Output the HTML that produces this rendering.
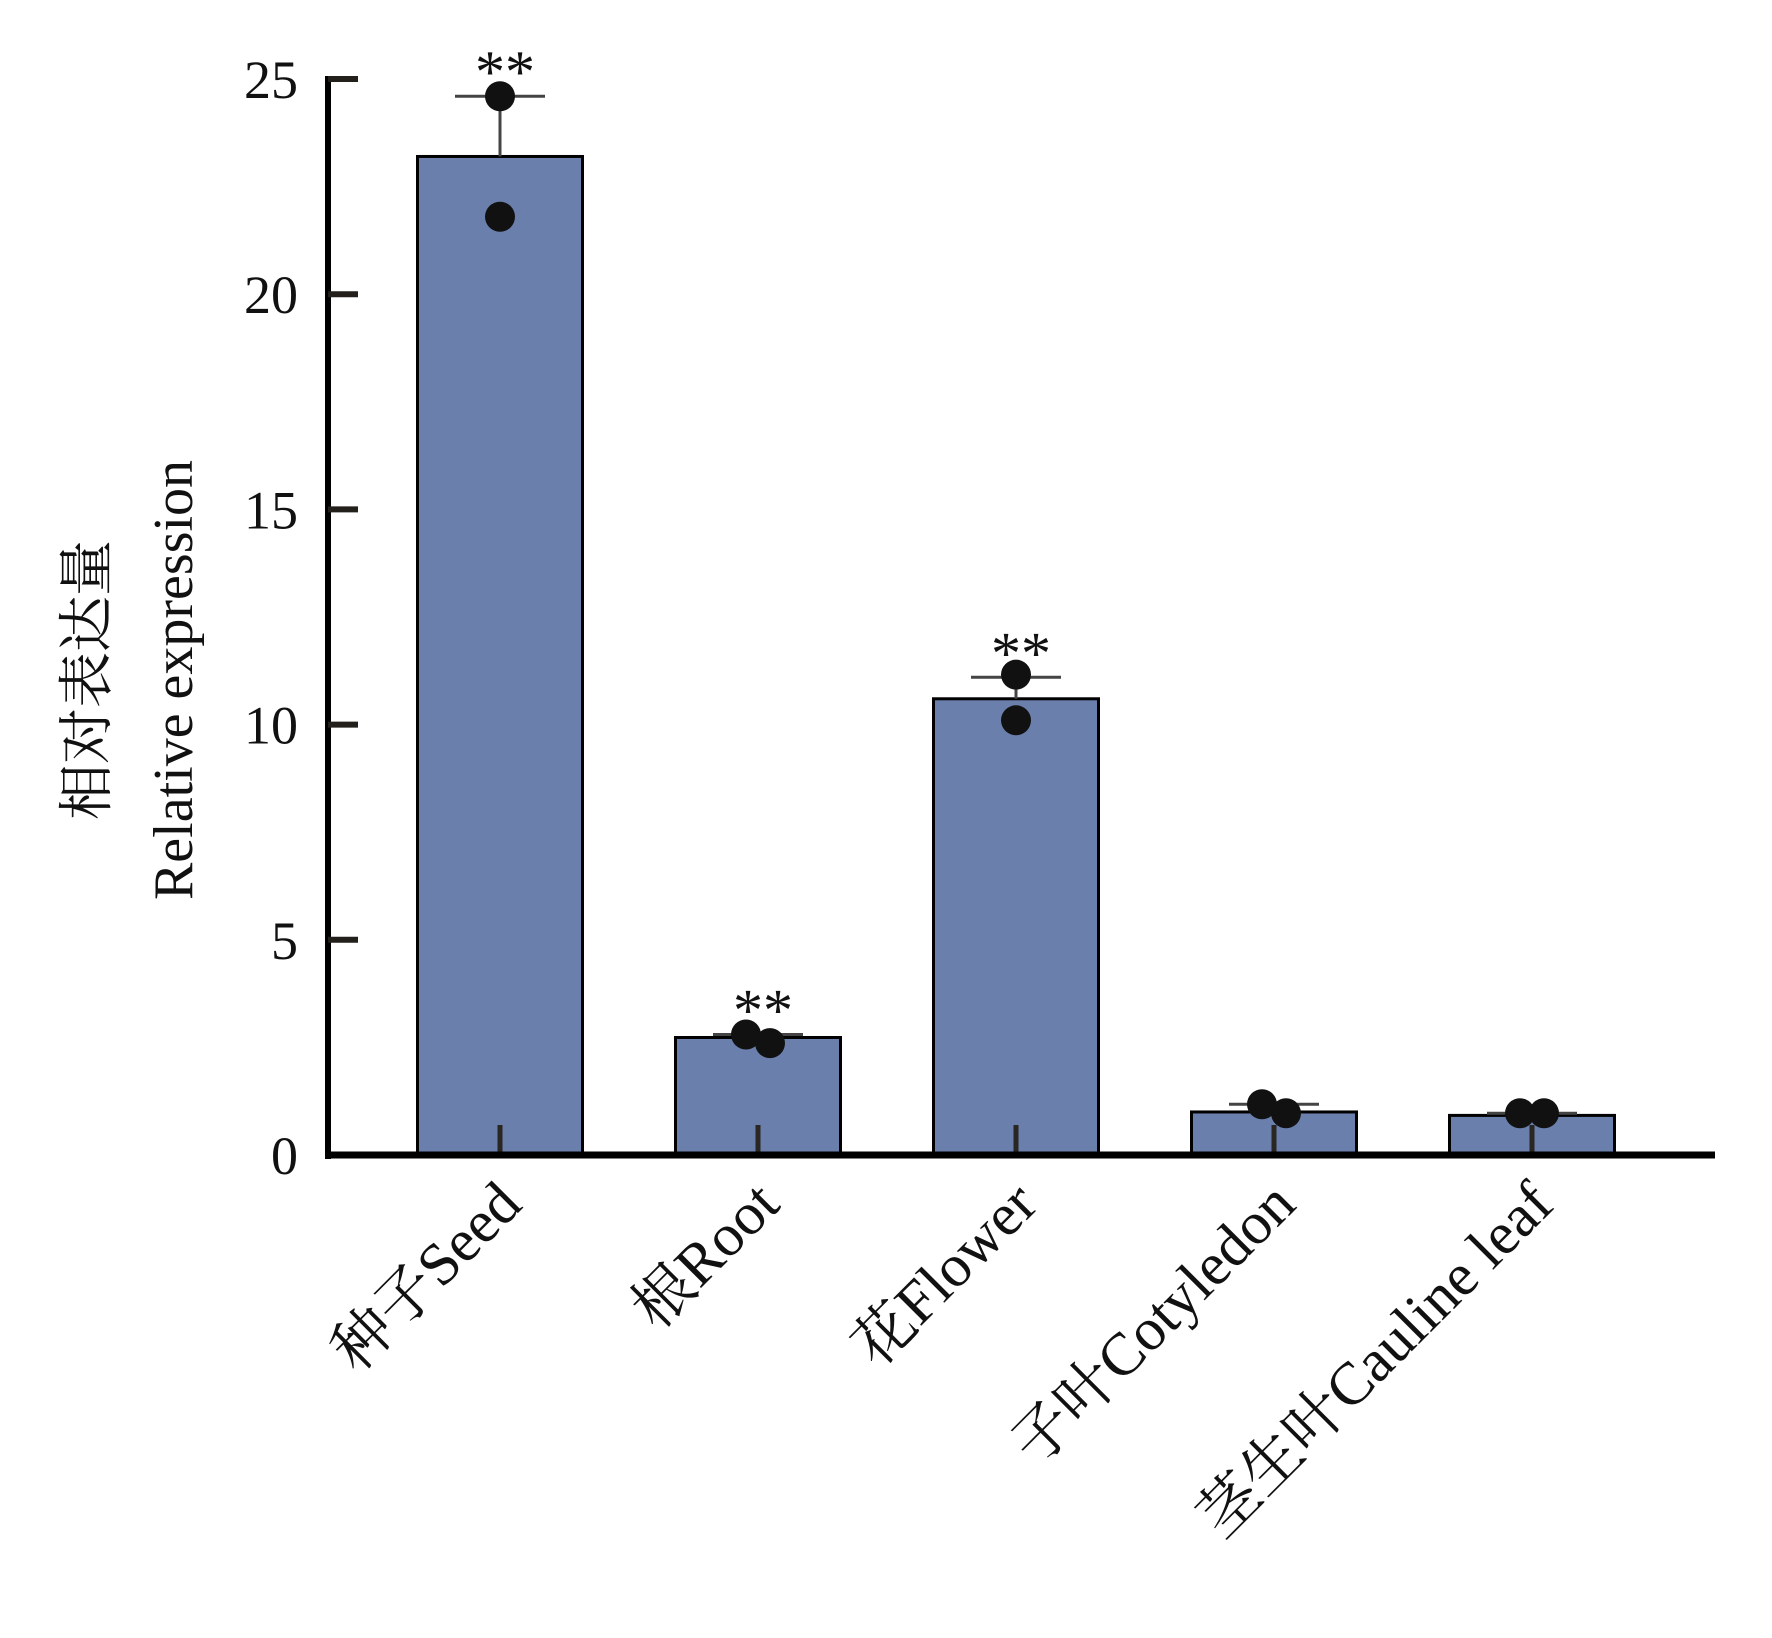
<!DOCTYPE html>
<html><head><meta charset="utf-8"><style>
body{margin:0;background:#fff}
svg{display:block}
text{font-family:"Liberation Serif","Noto Serif CJK SC","Noto Sans CJK SC",serif;fill:#111}
</style></head><body>
<svg id="chart" width="1772" height="1638" viewBox="0 0 1772 1638" xmlns="http://www.w3.org/2000/svg">
<g id="axes"></g>
<g id="bars"></g>
<text transform="translate(106,680) rotate(-90)" text-anchor="middle" font-size="56">相对表达量</text>
<text transform="translate(192,680) rotate(-90)" text-anchor="middle" font-size="56">Relative expression</text>
</svg>
<script>
const categories = ["种子Seed","根Root","花Flower","子叶Cotyledon","茎生叶Cauline leaf"];
const means = [23.2, 2.73, 10.6, 1.0, 0.92];
const errTop = [24.6, 2.8, 11.1, 1.18, 0.97];
const rep1 = [24.6, 2.8, 11.16, 1.18, 0.97];
const rep2 = [21.8, 2.6, 10.1, 0.97, 0.97];
const significance = ["**","**","**","",""];
const yTicks = [0,5,10,15,20,25];

const NS="http://www.w3.org/2000/svg";
const svg=document.getElementById('chart');
const gA=document.getElementById('axes'), gB=document.getElementById('bars');
const x0=328, x1=1715, y0=1155, yTop=79, yMax=25;
const y=v=>y0-(v/yMax)*(y0-yTop);
const step=258, firstC=500, bw=165;
const xc=i=>firstC+i*step;
function el(t,a,p){const e=document.createElementNS(NS,t);for(const k in a)e.setAttribute(k,a[k]);p.appendChild(e);return e;}

const ya=el('line',{x1:x0,y1:yTop-3,x2:x0,y2:y0+4,stroke:'#000','stroke-width':6},gA);


yTicks.forEach(t=>{
  const tk=el('line',{x1:x0,y1:y(t),x2:x0+30,y2:y(t),stroke:'#231f1a','stroke-width':6},gA);
  
  
  const lb=el('text',{x:298,y:y(t)+19,'text-anchor':'end','font-size':54},gA);
  lb.textContent=t;
  
  
});

categories.forEach((c,i)=>{
  const cx=xc(i);
  const r=el('rect',{x:cx-bw/2,y:y(means[i]),width:bw,height:y0-y(means[i]),fill:'#6a7fab',stroke:'#000','stroke-width':3},gB);
  
  
  const ev=el('line',{x1:cx,y1:y(means[i]),x2:cx,y2:y(errTop[i]),stroke:'#444','stroke-width':3},gB);
  
  
  const cap=el('line',{x1:cx-45,y1:y(errTop[i]),x2:cx+45,y2:y(errTop[i]),stroke:'#444','stroke-width':3},gB);
  
  
  const tk=el('line',{x1:cx,y1:y0,x2:cx,y2:y0-30,stroke:'#2a2622','stroke-width':5},gB);
  
  
  const off=(i===0||i===2)?0:12;
  const p1=el('circle',{cx:cx-off,cy:y(rep1[i]),r:15,fill:'#111'},gB);
  
  
  const p2=el('circle',{cx:cx+off,cy:y(rep2[i]),r:15,fill:'#111'},gB);
  
  
  if(significance[i]){
    const s=el('text',{x:cx+5,y:y(errTop[i])-4,'text-anchor':'middle','font-size':60},gB);
    s.textContent=significance[i];
    
    
  }
  const lb=el('text',{transform:`translate(${cx+24},${y0+52}) rotate(-45)`,'text-anchor':'end','font-size':60},gB);
  lb.textContent=c;
  
  
});
const xa=el('line',{x1:x0-3,y1:y0,x2:x1,y2:y0,stroke:'#000','stroke-width':7},gA);


svg.appendChild(gA);
</script>
</body></html>
